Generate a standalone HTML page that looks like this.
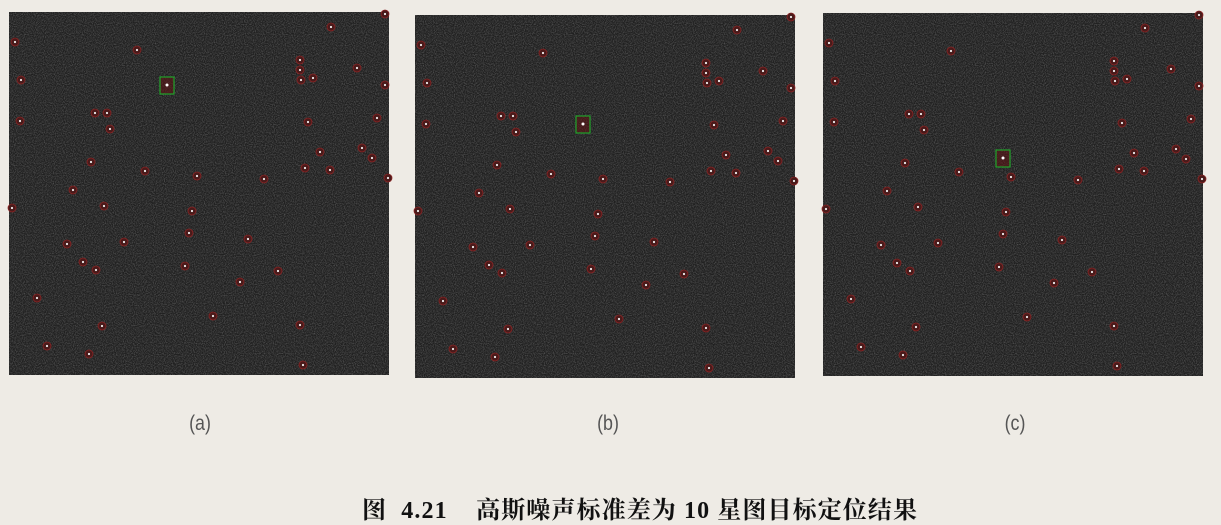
<!DOCTYPE html>
<html><head><meta charset="utf-8"><style>
body{margin:0;width:1221px;height:524px;background:#eeebe5;overflow:hidden;position:relative;font-family:"Liberation Sans","Noto Sans CJK SC",sans-serif}
svg{position:absolute;left:0;top:0}
.lbl{position:absolute;top:412px;font-size:21px;color:#555;width:60px;text-align:center;transform:scaleX(0.85)}
.cap{position:absolute;left:362px;top:490px;font-family:"Liberation Serif","Noto Serif CJK SC",serif;font-weight:bold;font-size:24px;letter-spacing:1.1px;color:#111;white-space:pre}
</style></head><body>
<svg id="chart" width="1221" height="524">
<defs><filter id="nz" x="0" y="0" width="100%" height="100%"><feTurbulence type="fractalNoise" baseFrequency="0.9" numOctaves="2" seed="3"/><feColorMatrix type="matrix" values="0 0 0 0 1  0 0 0 0 1  0 0 0 0 1  0 0 0 1.6 -0.6"/></filter></defs>
</svg>
<div class="lbl" style="left:170px">(a)</div>
<div class="lbl" style="left:578px">(b)</div>
<div class="lbl" style="left:985px">(c)</div>
<div class="cap">图  4.21    高斯噪声标准差为 10 星图目标定位结果</div>
<script>
const panelX=[9,415,823];
const panelY=[12,15,13];
const boxX=[158,168,180];
const boxY=[73,109,145];
const starX=[6,128,12,11,291,291,292,304,348,322,376,376,86,98,101,299,368,82,136,188,255,296,311,321,353,363,379,64,95,183,180,3,58,115,239,74,87,176,269,231,28,204,93,291,38,80,294];
const starY=[30,38,68,109,48,58,68,66,56,15,2,73,101,101,117,110,106,150,159,164,167,156,140,158,136,146,166,178,194,199,221,196,232,230,227,250,258,254,259,270,286,304,314,313,334,342,353];
const svg=document.getElementById('chart');
const NS='http://www.w3.org/2000/svg';
function mk(t,a){const e=document.createElementNS(NS,t);for(const k in a)e.setAttribute(k,a[k]);svg.appendChild(e);return e;}
for(let p=0;p<3;p++){
 const ox=panelX[p],oy=panelY[p];
 const bg=mk('rect',{x:ox,y:oy,width:380,height:363,fill:'#202020'});
 
 
 const nz=mk('rect',{x:ox,y:oy,width:380,height:363,fill:'#fff',filter:'url(#nz)',opacity:0.3});
 
 
 for(let i=0;i<starX.length;i++){
  const c=mk('circle',{cx:ox+starX[i],cy:oy+starY[i],r:4,fill:'#4a1a1a',stroke:'#8a2525','stroke-width':0.8});
  
  
  const d=mk('circle',{cx:ox+starX[i],cy:oy+starY[i],r:1.1,fill:'#eee'});
  
  
 }
 const b=mk('rect',{x:ox+boxX[p]-7,y:oy+boxY[p]-8,width:14,height:17,fill:'#5a1515','fill-opacity':0.6,stroke:'#1fa32a','stroke-width':1.2});
 
 
 const bd=mk('circle',{cx:ox+boxX[p],cy:oy+boxY[p],r:1.5,fill:'#fff'});
 
 
}
</script>
</body></html>
